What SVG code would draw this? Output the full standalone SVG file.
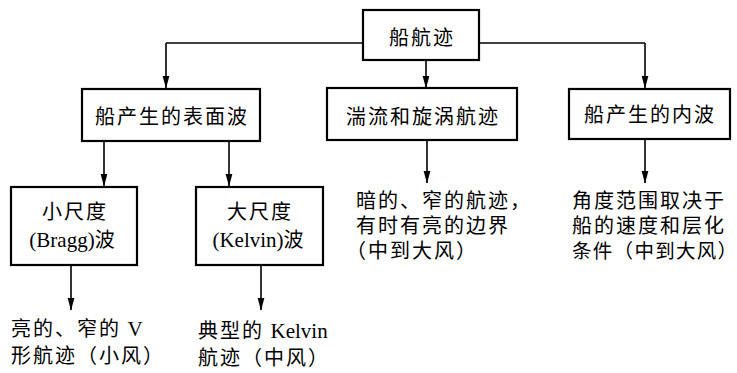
<svg xmlns="http://www.w3.org/2000/svg" width="737" height="373" viewBox="0 0 737 373">
<style>
.box{fill:#fff;stroke:#000;stroke-width:2.2}
.t{font-family:"Noto Sans CJK SC","Noto Sans",sans-serif;font-size:20px;fill:#000;letter-spacing:2px}
.c{text-anchor:middle}
.s{font-family:"Liberation Serif",serif;letter-spacing:0;font-size:21px}
.ln{fill:none;stroke:#000;stroke-width:1.6}
</style>
<defs>
<marker id="ah" markerUnits="userSpaceOnUse" markerWidth="13" markerHeight="8" viewBox="0 0 13 8" refX="12.5" refY="4" orient="auto">
<path d="M0,0.5 L13,4 L0,7.5 Z" fill="#000"/>
</marker>
</defs>
<g id="connectors">
<polyline class="ln" points="166,43 645,43"/>
<line class="ln" x1="166" y1="43" x2="166" y2="88" marker-end="url(#ah)"/>
<line class="ln" x1="426" y1="60" x2="426" y2="88" marker-end="url(#ah)"/>
<line class="ln" x1="645" y1="43" x2="645" y2="88" marker-end="url(#ah)"/>
<line class="ln" x1="104" y1="141" x2="104" y2="186" marker-end="url(#ah)"/>
<line class="ln" x1="229" y1="141" x2="229" y2="186" marker-end="url(#ah)"/>
<line class="ln" x1="427" y1="140" x2="427" y2="183" marker-end="url(#ah)"/>
<line class="ln" x1="645" y1="139" x2="645" y2="183" marker-end="url(#ah)"/>
<line class="ln" x1="71" y1="265" x2="71" y2="310" marker-end="url(#ah)"/>
<line class="ln" x1="261" y1="265" x2="261" y2="310" marker-end="url(#ah)"/>
</g>
<g id="n-root">
<rect class="box" x="363" y="10" width="116" height="50"/>
<text class="t c" x="422" y="45">船航迹</text>
</g>
<g id="n-surface">
<rect class="box" x="82" y="89" width="178" height="52"/>
<text class="t c" x="172" y="124">船产生的表面波</text>
</g>
<g id="n-turb">
<rect class="box" x="327" y="88" width="190" height="52"/>
<text class="t c" x="423" y="124">湍流和旋涡航迹</text>
</g>
<g id="n-internal">
<rect class="box" x="569" y="89" width="161" height="50"/>
<text class="t c" x="650" y="122">船产生的内波</text>
</g>
<g id="n-bragg">
<rect class="box" x="11" y="187" width="126" height="78"/>
<text class="t c" x="75" y="219">小尺度</text>
<text class="t c" x="73" y="247"><tspan class="s">(Bragg)</tspan>波</text>
</g>
<g id="n-kelvin">
<rect class="box" x="196" y="187" width="127" height="78"/>
<text class="t c" x="260" y="219">大尺度</text>
<text class="t c" x="259" y="247"><tspan class="s">(Kelvin)</tspan>波</text>
</g>
<g id="l-turb">
<text class="t" x="356" y="208">暗的、窄的航迹，</text>
<text class="t" x="356" y="233">有时有亮的边界</text>
<text class="t" x="346" y="258">（中到大风）</text>
</g>
<g id="l-internal">
<text class="t" x="572" y="208">角度范围取决于</text>
<text class="t" x="572" y="233">船的速度和层化</text>
<text class="t" x="572" y="258" style="font-size:19.5px;letter-spacing:1.3px">条件（中到大风）</text>
</g>
<g id="l-bragg">
<text class="t" x="11" y="336">亮的、窄的 <tspan class="s">V</tspan></text>
<text class="t" x="11" y="363">形航迹（小风）</text>
</g>
<g id="l-kelvin">
<text class="t" x="198" y="338">典型的 <tspan class="s">Kelvin</tspan></text>
<text class="t" x="198" y="365">航迹（中风）</text>
</g>
</svg>
